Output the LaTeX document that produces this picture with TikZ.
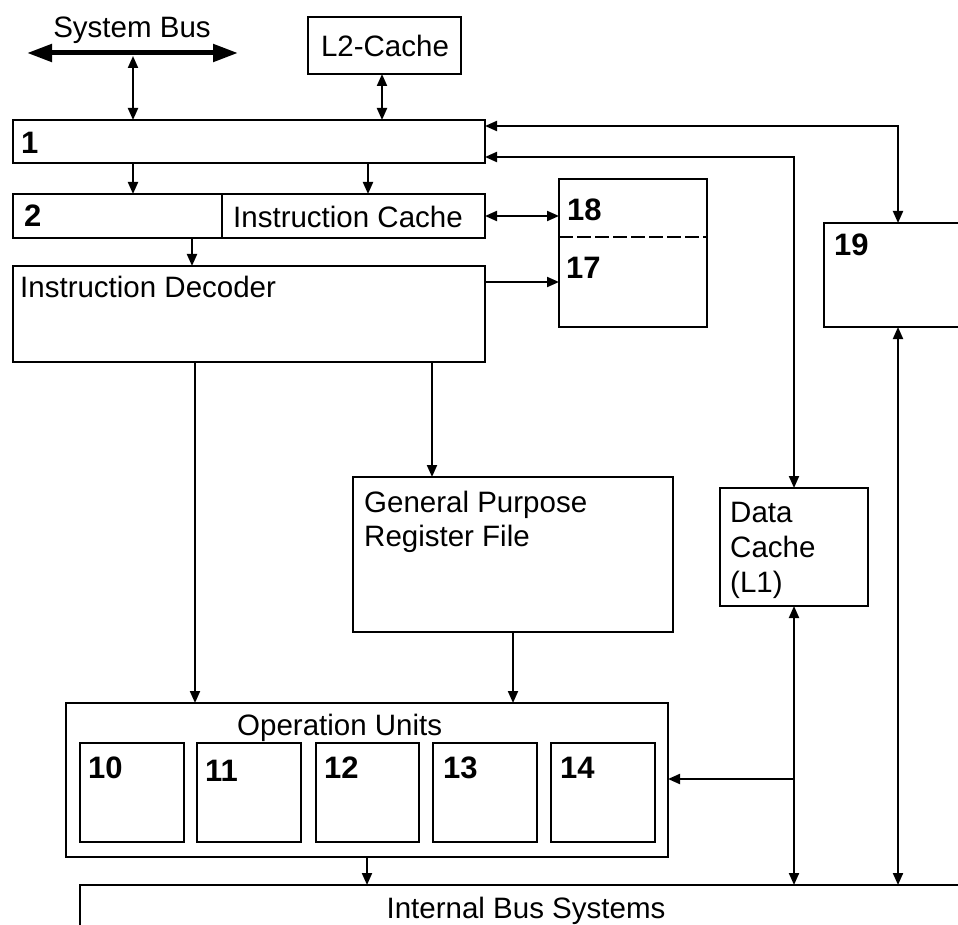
\documentclass[tikz,border=0pt]{standalone}
\usepackage{fontspec}
\setmainfont{Liberation Sans}
\usetikzlibrary{arrows.meta}
\begin{document}
\begin{tikzpicture}[x=1pt,y=-1pt,
  box/.style={draw, line width=2.2pt, inner sep=0pt, outer sep=0pt, anchor=north west},
  conn/.style={line width=2pt},
  tipA/.tip={Triangle[length=12pt,width=10pt]},
  arr/.style={conn, -tipA},
  darr/.style={conn, tipA-tipA},
  txt/.style={font=\fontsize{29.5}{34}\selectfont, inner sep=0pt, anchor=base west},
  num/.style={font=\fontsize{31}{34}\selectfont\bfseries, inner sep=0pt, anchor=base west},
]
\useasboundingbox (0,0) rectangle (958,925);
\clip (0,0) rectangle (958,925);

% System bus
\node[txt, anchor=base] (sbt) at (132,38) {System Bus};
\coordinate (sbL) at (27,53);
\coordinate (sbR) at (238,53);
\draw[line width=5pt, {Triangle[length=25pt,width=17pt]}-{Triangle[length=25pt,width=17pt]}] (sbL) -- (sbR);
\coordinate (sbJ) at (133,56);

% L2 cache
\node[box, minimum width=153pt, minimum height=57pt] (l2) at (308,17) {};
\node[txt, anchor=base] (l2t) at (385,57) {L2-Cache};

% Box 1
\node[box, minimum width=472pt, minimum height=43pt] (b1) at (13,120) {};
\node[num] (n1) at (21,154) {1};

% Box 2
\node[box, minimum width=472pt, minimum height=44pt] (b2) at (13,194) {};
\draw[line width=2.2pt] (222,0 |- b2.north) -- (222,0 |- b2.south);
\node[num] (n2) at (24,227) {2};
\node[txt] (ict) at (233,228) {Instruction Cache};

% Box 18/17
\node[box, minimum width=148pt, minimum height=148pt] (b18) at (559,179) {};
\draw[line width=2pt, dash pattern=on 14pt off 4pt] (b18.west |- 0,237) -- (b18.east |- 0,237);
\node[num] (n18) at (567,221) {18};
\node[num] (n17) at (566,279) {17};

% Instruction decoder
\node[box, minimum width=472pt, minimum height=96pt] (dec) at (13,266) {};
\node[txt] (dect) at (20,298) {Instruction Decoder};

% Box 19
\node[box, minimum width=160pt, minimum height=104pt] (b19) at (824,223) {};
\node[num] (n19) at (834,256) {19};

% Data cache
\node[box, minimum width=148pt, minimum height=118pt] (dc) at (720,488) {};
\node[txt] (dc1) at (730,522) {Data};
\node[txt] (dc2) at (730,557) {Cache};
\node[txt] (dc3) at (730,592) {(L1)};

% GPR
\node[box, minimum width=320pt, minimum height=155pt] (gpr) at (353,477) {};
\node[txt] (gpr1) at (364,512) {General Purpose};
\node[txt] (gpr2) at (364,546) {Register File};

% Operation units
\node[box, minimum width=602pt, minimum height=154pt] (op) at (66,703) {};
\node[txt] (opt) at (237,735) {Operation Units};
\node[box, minimum width=104pt, minimum height=99pt] (u10) at (80,743) {};
\node[box, minimum width=104pt, minimum height=99pt] (u11) at (197,743) {};
\node[box, minimum width=103pt, minimum height=99pt] (u12) at (316,743) {};
\node[box, minimum width=104pt, minimum height=99pt] (u13) at (433,743) {};
\node[box, minimum width=104pt, minimum height=99pt] (u14) at (551,743) {};
\node[num] (n10) at (88,778) {10};
\node[num] (n11) at (205,781) {11};
\node[num] (n12) at (324,778) {12};
\node[num] (n13) at (443,778) {13};
\node[num] (n14) at (560,778) {14};

% Internal bus
\coordinate (busBL) at (80,930);
\coordinate (busTL) at (80,885);
\coordinate (busTR) at (965,885);
\draw[line width=2.2pt] (busBL) -- (busTL) -- (busTR);
\node[txt, anchor=base] (bust) at (526,918) {Internal Bus Systems};

% Connectors
\draw[darr] (sbJ) -- (133,0 |- b1.north);
\draw[darr] (382,0 |- l2.south) -- (382,0 |- b1.north);
\draw[arr] (133,0 |- b1.south) -- (133,0 |- b2.north);
\draw[arr] (368,0 |- b1.south) -- (368,0 |- b2.north);
\draw[darr] (b2.east |- 0,216) -- (b18.west |- 0,216);
\draw[arr] (192,0 |- b2.south) -- (192,0 |- dec.north);
\draw[arr] (dec.east |- 0,282) -- (b18.west |- 0,282);
\draw[darr] (b1.east |- 0,126) -- (898,126) -- (898,0 |- b19.north);
\draw[darr] (b1.east |- 0,157) -- (794,157) -- (794,0 |- dc.north);
\draw[arr] (195,0 |- dec.south) -- (195,0 |- op.north);
\draw[arr] (432,0 |- dec.south) -- (432,0 |- gpr.north);
\draw[arr] (513,0 |- gpr.south) -- (513,0 |- op.north);
\draw[arr] (367,0 |- op.south) -- (367,0 |- busTL);
\draw[darr] (794,0 |- dc.south) -- (794,0 |- busTL);
\draw[arr] (794,779) -- (op.east |- 0,779);
\draw[darr] (898,0 |- b19.south) -- (898,0 |- busTL);
\end{tikzpicture}
\end{document}
